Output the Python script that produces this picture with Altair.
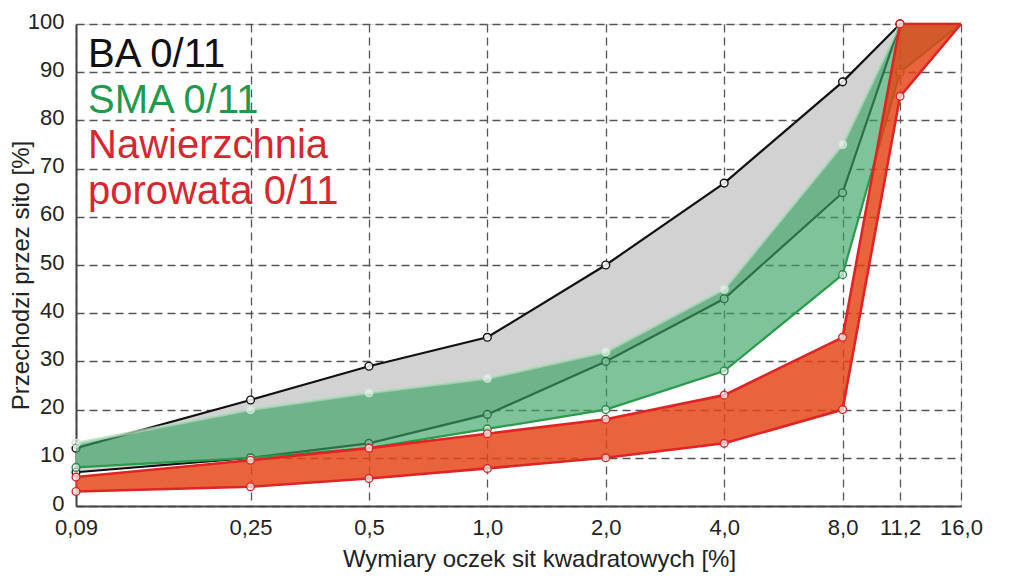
import altair as alt
import pandas as pd

# ---- data ----
sieves = [0.09, 0.25, 0.5, 1.0, 2.0, 4.0, 8.0, 11.2, 16.0]
sieve_labels = ["0,09", "0,25", "0,5", "1,0", "2,0", "4,0", "8,0", "11,2", "16,0"]

ba_upper = [12, 22, 29, 35, 50, 67, 88, 100, 100]
ba_lower = [7, 10, 13, 19, 30, 43, 65, 100, 100]

sma_upper = [13, 20, 23.5, 26.5, 32, 45, 75, 100, 100]
sma_lower = [8, 10, 12, 16, 20, 28, 48, 90, 100]

por_upper = [6, 9.5, 12, 15, 18, 23, 35, 100, 100]
por_lower = [3, 4, 5.7, 7.8, 10, 13, 20, 85, 100]

legend_labels = ["BA 0/11", "SMA 0/11", "Nawierzchnia", "porowata 0/11"]
legend_colors = ["#111111", "#1f9a4b", "#d9262e", "#d9262e"]

y_ticks = list(range(0, 101, 10))

df = pd.DataFrame({
    "sito": sieves,
    "ba_hi": ba_upper, "ba_lo": ba_lower,
    "sma_hi": sma_upper, "sma_lo": sma_lower,
    "por_hi": por_upper, "por_lo": por_lower,
})

FONT = "Liberation Sans"

label_expr = " : ".join(
    [f"datum.value == {v} ? '{l}'" for v, l in zip(sieves, sieve_labels)]
) + " : ''"

x_enc = alt.X(
    "sito:Q",
    scale=alt.Scale(type="log", base=2, domain=[sieves[0], sieves[-1]], nice=False),
    axis=alt.Axis(
        values=sieves, labelExpr=label_expr, title="Wymiary oczek sit kwadratowych [%]",
        grid=True, gridDash=[8, 5], gridColor="#555555", gridWidth=1.3,
        domainColor="#444444", domainWidth=2, ticks=False,
        labelFontSize=22, labelFont=FONT, labelColor="#222222", labelPadding=11,
        labelOverlap=False, labelFlush=False, labelBound=False,
        titleFontSize=24, titleFont=FONT, titleColor="#222222", titleFontWeight="normal",
        titleX=463, titleY=60, titleAlign="center", titleBaseline="alphabetic",
    ),
)

y_axis = alt.Axis(
    values=y_ticks, title="Przechodzi przez sito [%]",
    grid=True, gridDash=[8, 5], gridColor="#555555", gridWidth=1.3,
    domainColor="#444444", domainWidth=2, ticks=False,
    labelFontSize=22, labelFont=FONT, labelColor="#222222", labelPadding=12,
    labelOffset=-3,
    titleFontSize=24, titleFont=FONT, titleColor="#222222", titleFontWeight="normal",
    titleX=-55, titleY=251, titleAlign="center", titleBaseline="middle", titleAngle=-90,
)
y_scale = alt.Scale(domain=[0, 100], nice=False)


def Y(field):
    return alt.Y(f"{field}:Q", scale=y_scale, axis=y_axis)


base = alt.Chart(df)

layers = []
# BA 0/11 band (grey)
layers.append(base.mark_area(color="#d2d2d2", opacity=1).encode(x=x_enc, y=Y("ba_lo"), y2="ba_hi:Q"))
for f in ["ba_hi", "ba_lo"]:
    layers.append(base.mark_line(color="#111111", strokeWidth=2.2).encode(x=x_enc, y=Y(f)))
    layers.append(base.mark_point(filled=True, shape="circle", fill="white", fillOpacity=0.85,
                                  stroke="#111111", strokeWidth=1.4, size=60)
                  .transform_filter("datum.sito < 16").encode(x=x_enc, y=Y(f)))

# SMA 0/11 band (green, translucent)
layers.append(base.mark_area(color="#3aa365", opacity=0.65).encode(x=x_enc, y=Y("sma_lo"), y2="sma_hi:Q"))
layers.append(base.mark_line(color="#b5dcc0", strokeWidth=3, opacity=0.7).encode(x=x_enc, y=Y("sma_hi")))
layers.append(base.mark_line(color="#2a9a4c", strokeWidth=2.2).encode(x=x_enc, y=Y("sma_lo")))
layers.append(base.mark_point(filled=True, shape="circle", fill="white", fillOpacity=0.5,
                              stroke="#c9e6d2", strokeWidth=1.4, size=60)
              .transform_filter("datum.sito < 11").encode(x=x_enc, y=Y("sma_hi")))
layers.append(base.mark_point(filled=True, shape="circle", fill="white", fillOpacity=0.6,
                              stroke="#2a8a48", strokeWidth=1.4, size=60)
              .transform_filter("datum.sito < 16").encode(x=x_enc, y=Y("sma_lo")))

# Nawierzchnia porowata band (red)
layers.append(base.mark_area(color="#e44514", opacity=0.83).encode(x=x_enc, y=Y("por_lo"), y2="por_hi:Q"))
for f in ["por_hi", "por_lo"]:
    layers.append(base.mark_line(color="#e02424", strokeWidth=2.6).encode(x=x_enc, y=Y(f)))
    layers.append(base.mark_point(filled=True, shape="circle", fill="white", fillOpacity=0.7,
                                  stroke="#d82a2a", strokeWidth=1.4, size=60)
                  .transform_filter("datum.sito < 16").encode(x=x_enc, y=Y(f)))

# legend text
for i, (lab, col) in enumerate(zip(legend_labels, legend_colors)):
    layers.append(
        alt.Chart(pd.DataFrame({"t": [lab]}))
        .mark_text(align="left", baseline="alphabetic", fontSize=40, font=FONT, color=col)
        .encode(x=alt.value(12), y=alt.value(43 + i * 45.5), text="t:N")
    )

chart = (
    alt.layer(*layers)
    .properties(width=885, height=482, autosize="none",
                padding={"left": 68, "top": 16, "right": 50, "bottom": 74})
    .configure_view(stroke="#444444", strokeWidth=1.6)
    .configure(background="white")
)

chart.save("out.html", embed_options={"renderer": "svg", "actions": False})
